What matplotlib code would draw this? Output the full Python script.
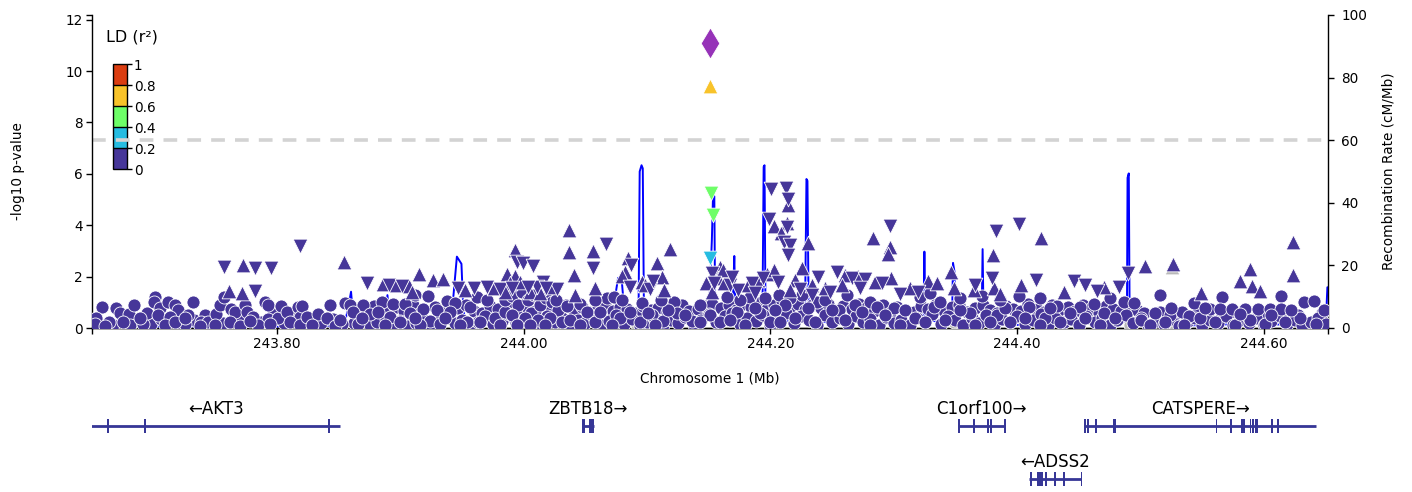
import matplotlib
matplotlib.use("Agg")
import matplotlib.pyplot as plt
import numpy as np
from matplotlib.colors import ListedColormap, BoundaryNorm
from matplotlib.cm import ScalarMappable
from matplotlib.patches import Rectangle

plt.rcParams['font.family'] = ['DejaVu Sans']

# ---------------- data ----------------
# variants with r2 < 0.2 to the lead SNP, split by marker shape
circle_pos = [
    243.6581, 243.6697, 243.6725, 243.6798, 243.6841, 243.6806, 243.6635, 243.6535, 243.6522, 243.6914,
    243.6948, 243.7009, 243.7003, 243.7049, 243.7035, 243.7116, 243.7176, 243.7197, 243.7130, 243.7094,
    243.7319, 243.7279, 243.7252, 243.7386, 243.7441, 243.7508, 243.7536, 243.7571, 243.7630, 243.7657,
    243.7738, 243.7759, 243.7806, 243.7901, 243.7927, 243.7927, 243.8008, 243.8035, 243.8084, 243.8171,
    243.8184, 243.6605, 243.6889, 243.7173, 243.7376, 243.7498, 243.7619, 243.7700, 243.7846, 243.7944,
    243.8106, 243.8187, 243.7781, 243.7254, 243.6751,
    243.8201, 243.8430, 243.8552, 243.8592, 243.8700, 243.8755, 243.8849, 243.8944, 243.9038, 243.9120,
    243.9227, 243.9187, 243.9296, 243.9377, 243.9444, 243.9403, 243.8241, 243.8335, 243.8403, 243.8619,
    243.8822, 243.8917, 243.9079, 243.9241, 243.9566, 243.9620, 243.9701, 243.9539, 243.8284, 243.8471,
    243.8657, 243.8876, 243.8998, 243.9160, 243.9322, 243.9484, 243.9647, 243.9768, 243.9850, 243.8689,
    243.8511, 243.9809, 243.9120, 243.9363,
    243.9850, 243.9906, 243.9955, 243.9987, 244.0036, 244.0085, 244.0133, 244.0182, 244.0231, 244.0279,
    243.9906, 244.0012, 244.0117, 244.0214, 244.0312, 243.9947, 244.0052, 244.0174, 244.0263,
    244.0350, 244.0458, 244.0512, 244.0674, 244.0728, 244.0958, 244.1220, 244.1039, 244.1242, 244.1133,
    244.1364, 244.1512, 244.0377, 244.0579, 244.0619, 244.0782, 244.0863, 244.0944, 244.1066, 244.1171,
    244.1309, 244.1430, 244.1593, 244.0579, 244.0798, 244.1115, 244.1430, 244.0717, 244.1009, 244.0458,
    244.2377, 244.1647, 244.1836, 244.2066, 244.2161, 244.2256, 244.2621, 244.2810, 244.2864, 244.2999,
    244.3215, 244.3296, 244.1729, 244.1917, 244.2553, 244.1755, 244.1958, 244.2120, 244.2307, 244.2444,
    244.2501, 244.2688, 244.2745, 244.2931, 244.3093, 244.3174, 244.1674, 244.1796, 244.1999, 244.2201,
    244.2363, 244.2607, 244.2810, 244.3053, 244.3255, 244.1877, 244.2039, 244.2079,
    244.3715, 244.4012, 244.4183, 244.4093, 244.4324, 244.4513, 244.4621, 244.4756, 244.4864, 244.4945,
    244.3323, 244.3377, 244.3620, 244.3837, 244.4432, 244.4702, 244.3418, 244.3540, 244.3783, 244.3904,
    244.3945, 244.4229, 244.4351, 244.4553, 244.4675, 244.4797, 244.4188, 244.3661, 244.4067, 244.4270,
    244.5000, 244.3864, 244.3540,
    244.5156, 244.5662, 244.6140, 244.5432, 244.6329, 244.6405, 244.6486, 244.5567, 244.5648, 244.5745,
    244.5851, 244.5956, 244.6053, 244.6135, 244.5121, 244.5237, 244.5337, 244.5391, 244.5249, 244.5080,
    244.5202, 244.5356, 244.5486, 244.5607, 244.5769, 244.5891, 244.6013, 244.6175, 244.6297, 244.6419,
    244.5526, 244.6216, 244.6054, 244.5810,
]
circle_logp = [
    0.83, 0.77, 0.57, 0.53, 0.89, 0.12, 0.25, 0.38, 0.14, 0.14,
    0.57, 1.22, 1.00, 0.79, 0.51, 1.00, 0.89, 0.70, 0.44, 0.12,
    1.00, 0.51, 0.14, 0.22, 0.25, 0.53, 0.89, 1.22, 0.74, 0.61,
    0.89, 0.61, 0.44, 1.02, 0.89, 0.35, 0.38, 0.87, 0.61, 0.83,
    0.44, 0.08, 0.39, 0.23, 0.08, 0.12, 0.23, 0.08, 0.12, 0.16,
    0.23, 0.12, 0.27, 0.39, 0.23,
    0.87, 0.89, 0.96, 0.89, 0.89, 0.54, 1.00, 0.92, 0.92, 1.28,
    1.26, 0.74, 0.70, 1.05, 0.96, 0.61, 0.44, 0.53, 0.40, 0.63,
    0.63, 0.44, 0.57, 0.27, 0.83, 1.22, 1.09, 0.25, 0.12, 0.08,
    0.16, 0.12, 0.23, 0.12, 0.16, 0.12, 0.23, 0.39, 0.62, 0.39,
    0.31, 0.12, 0.39, 0.39,
    1.09, 1.25, 0.89, 1.40, 1.09, 1.28, 0.89, 1.17, 1.01, 0.70,
    0.51, 0.39, 0.31, 0.39, 0.23, 0.12, 0.12, 0.12, 1.09,
    0.87, 0.92, 0.63, 1.16, 1.22, 0.96, 1.02, 0.51, 0.57, 0.27,
    0.27, 0.51, 0.31, 0.23, 0.62, 0.39, 0.62, 0.23, 0.12, 0.70,
    0.51, 0.23, 0.23, 1.09, 1.09, 1.09, 0.89, 0.12, 0.58, 0.12,
    1.00, 1.19, 1.22, 1.28, 1.16, 1.28, 1.28, 1.02, 0.83, 0.77,
    1.22, 1.35, 0.63, 0.57, 0.70, 1.09, 1.17, 0.89, 0.78, 1.09,
    0.70, 0.89, 0.62, 0.51, 0.70, 0.39, 0.31, 0.12, 0.23, 0.39,
    0.23, 0.31, 0.12, 0.12, 0.23, 0.78, 0.70, 0.23,
    1.26, 1.25, 1.16, 0.83, 0.86, 0.83, 0.93, 1.16, 1.02, 0.96,
    0.83, 1.02, 0.57, 0.51, 0.57, 0.57, 0.31, 0.70, 0.23, 0.78,
    0.23, 0.39, 0.23, 0.39, 0.12, 0.39, 0.12, 0.12, 0.39, 0.78,
    0.31, 1.09, 1.17,
    1.28, 1.19, 1.26, 0.96, 1.00, 1.06, 0.70, 0.73, 0.73, 0.73,
    0.73, 0.73, 0.73, 0.73, 0.57, 0.51, 0.63, 0.48, 0.78, 0.12,
    0.23, 0.12, 0.39, 0.23, 0.12, 0.31, 0.16, 0.23, 0.39, 0.16,
    0.78, 0.70, 0.51, 0.54,
]

# weakly associated circles along the baseline
base_pos = [
    243.862, 243.868, 243.875, 243.881, 243.888, 243.894, 243.900, 243.906, 243.913, 243.919,
    243.925, 243.931, 243.938, 243.944, 243.950, 243.957, 243.963, 243.969, 243.975, 243.982,
    243.988, 243.994, 244.000, 244.006, 244.013, 244.019, 244.025, 244.031, 244.038, 244.044,
    244.050, 244.056, 244.063, 244.069, 244.075, 244.081, 244.088, 244.094, 244.100, 244.106,
    244.113, 244.119, 244.125, 244.131, 244.138, 244.144, 244.150, 244.156, 244.163, 244.169,
    244.175, 244.181, 244.188, 244.194, 244.200, 244.206, 244.213, 244.219, 244.225, 244.231,
    244.238, 244.244, 244.250, 244.256, 244.263, 244.269, 244.275, 244.281, 244.288, 244.294,
    244.300, 244.306, 244.313, 244.319, 244.325, 244.331, 244.338, 244.344, 244.350, 244.356,
    244.363, 244.369, 244.375, 244.381, 244.388, 244.394, 244.400, 244.406, 244.413, 244.419,
    244.425, 244.431, 244.438, 244.444, 244.450, 244.456, 244.463, 244.469, 244.475, 244.481,
    244.488, 244.494, 244.500, 244.506, 244.513, 244.519, 244.525, 244.531, 244.538, 244.544,
    244.550, 244.556, 244.563, 244.569, 244.575, 244.581, 244.588, 244.594, 244.600, 244.606,
    244.613, 244.619, 244.625, 244.631, 244.638, 244.644, 244.650,
    243.655, 243.667, 243.686, 243.698, 243.706, 243.722, 243.733, 243.742, 243.756, 243.768,
    243.787, 243.797, 243.806, 243.814, 243.823, 243.836, 243.845, 243.853,
]
base_logp = [
    0.18, 0.30, 0.10, 0.22, 0.35, 0.15, 0.28, 0.08, 0.20, 0.33,
    0.12, 0.26, 0.40, 0.18, 0.30, 0.10, 0.24, 0.45, 0.15, 0.28,
    0.55, 0.20, 0.35, 0.60, 0.18, 0.48, 0.25, 0.40, 0.12, 0.30,
    0.20, 0.45, 0.10, 0.28, 0.50, 0.15, 0.35, 0.08, 0.25, 0.40,
    0.12, 0.30, 0.18, 0.42, 0.10, 0.33, 0.55, 0.22, 0.45, 0.60,
    0.15, 0.40, 0.28, 0.52, 0.12, 0.35, 0.58, 0.20, 0.45, 0.30,
    0.10, 0.50, 0.25, 0.38, 0.15, 0.48, 0.22, 0.35, 0.10, 0.42,
    0.20, 0.30, 0.12, 0.40, 0.25, 0.55, 0.15, 0.45, 0.30, 0.10,
    0.38, 0.20, 0.50, 0.12, 0.35, 0.25, 0.45, 0.15, 0.30, 0.55,
    0.10, 0.40, 0.22, 0.35, 0.12, 0.48, 0.25, 0.38, 0.10, 0.30,
    0.50, 0.18, 0.40, 0.10, 0.28, 0.15, 0.35, 0.08, 0.25, 0.40,
    0.12, 0.30, 0.20, 0.45, 0.10, 0.30, 0.18, 0.40, 0.12, 0.28,
    0.45, 0.15, 0.32, 0.10, 0.25, 0.40, 0.15,
    0.20, 0.10, 0.30, 0.15, 0.35, 0.10, 0.30, 0.50, 0.20, 0.40,
    0.25, 0.55, 0.20, 0.50, 0.25, 0.20, 0.35, 0.15,
]

# second tier of weak circles filling the dense middle band
band_pos = [
    243.865, 243.872, 243.879, 243.886, 243.897, 243.903, 243.910, 243.916, 243.928, 243.934,
    243.947, 243.953, 243.960, 243.966, 243.973, 243.979, 243.991, 243.997, 244.003, 244.009,
    244.016, 244.022, 244.028, 244.034, 244.041, 244.047, 244.053, 244.060, 244.066, 244.072,
    244.078, 244.084, 244.091, 244.097, 244.103, 244.109, 244.116, 244.122, 244.128, 244.134,
    244.141, 244.147, 244.153, 244.160, 244.166, 244.172, 244.178, 244.184, 244.191, 244.197,
    244.203, 244.209, 244.216, 244.222, 244.228, 244.234, 244.241, 244.247, 244.253, 244.259,
    244.266, 244.272, 244.278, 244.284, 244.291, 244.297, 244.303, 244.309, 244.316, 244.322,
    244.328, 244.334, 244.341, 244.347, 244.353, 244.359, 244.366, 244.372, 244.378, 244.384,
    244.391, 244.397, 244.403, 244.409, 244.416, 244.422, 244.428, 244.434, 244.441, 244.447,
    244.453, 244.459, 244.466, 244.472, 244.478, 244.484, 244.491, 244.497, 244.503, 244.516,
    244.528, 244.547, 244.566, 244.578, 244.597, 244.616, 244.628, 244.647,
]
band_logp = [
    0.75, 0.62, 0.85, 0.70, 0.80, 0.65, 0.88, 0.60, 0.82, 0.66,
    0.78, 0.90, 0.68, 0.58, 0.85, 0.72, 0.95, 0.70, 0.82, 0.65,
    0.92, 0.75, 0.60, 0.88, 0.70, 0.82, 0.62, 0.78, 0.90, 0.66,
    0.80, 0.72, 0.60, 0.85, 0.70, 0.78, 0.62, 0.75, 0.88, 0.65,
    0.72, 0.85, 0.95, 0.78, 0.88, 0.70, 0.92, 0.80, 0.98, 0.75,
    0.88, 1.05, 0.82, 0.95, 0.70, 0.88, 0.78, 0.92, 0.65, 0.85,
    0.72, 0.95, 0.80, 0.66, 0.88, 0.60, 0.82, 0.70, 0.62, 0.85,
    0.72, 0.95, 0.66, 0.80, 0.90, 0.62, 0.78, 0.88, 0.70, 0.60,
    0.85, 0.72, 0.66, 0.92, 0.75, 0.62, 0.88, 0.70, 0.80, 0.66,
    0.90, 0.72, 0.60, 0.85, 0.75, 0.65, 0.88, 0.70, 0.58, 0.62,
    0.55, 0.60, 0.52, 0.58, 0.55, 0.60, 0.52, 0.58,
]

up_pos = [
    243.7725, 243.7609, 243.7717, 243.8546, 243.9154, 243.9263, 243.9349, 243.9863, 243.9931, 244.0363,
    244.0363, 244.0565, 244.0411, 244.0579, 243.9931, 244.0849, 244.0823, 244.1188, 244.1080, 244.1120,
    244.0958, 244.1593, 244.2139, 244.2025, 244.2134, 244.2088, 244.2304, 244.2828, 244.2254, 244.2972,
    244.2950, 244.2977, 244.3274, 244.4194, 244.3801, 244.3464, 244.3351, 244.3485, 244.3647, 244.3810,
    244.4032, 244.4377, 244.4707, 244.5040, 244.5264, 244.6238, 244.5891, 244.5810, 244.6234, 244.5905,
    244.5967, 244.5492, 243.8860, 243.8957, 243.9071, 243.9095, 243.9525, 243.9760, 243.9890, 244.0214,
    244.0052, 244.0417, 244.0798, 244.0985, 244.1139, 244.1480, 244.1577, 244.1626, 244.1528, 244.1820,
    244.1901, 244.1974, 244.2201, 244.2339, 244.2607, 244.2712, 244.2583, 244.2850, 244.1617, 244.2025,
    244.3134, 244.3864, 243.9971, 244.0133, 243.9850, 244.2161, 244.2444,
]
up_logp = [
    2.45, 1.44, 1.37, 2.56, 2.09, 1.87, 1.92, 2.09, 3.03, 3.81,
    2.94, 3.00, 2.06, 1.57, 2.03, 2.74, 2.17, 3.07, 2.52, 2.00,
    1.80, 2.39, 4.79, 3.97, 4.07, 3.68, 3.30, 3.52, 2.32, 3.16,
    2.87, 1.96, 1.83, 3.49, 2.84, 2.19, 1.74, 1.54, 1.48, 1.54,
    1.67, 1.41, 1.61, 2.40, 2.49, 3.36, 2.30, 1.84, 2.06, 1.63,
    1.45, 1.35, 1.71, 1.67, 1.63, 1.40, 1.48, 1.56, 1.75, 1.61,
    1.40, 1.28, 2.02, 1.67, 1.48, 1.75, 1.95, 1.75, 1.40, 1.67,
    1.87, 2.10, 1.87, 1.67, 2.06, 2.02, 1.67, 1.79, 2.26, 2.26,
    1.56, 1.32, 1.79, 1.36, 1.40, 1.48, 1.56,
]

down_pos = [
    243.7571, 243.7824, 243.7949, 243.8184, 243.7824, 243.8733, 243.9944, 243.9998, 244.0074, 244.0669,
    244.0561, 244.0160, 244.0869, 244.1025, 244.1526, 244.2007, 244.2128, 244.2139, 244.1990, 244.2136,
    244.2106, 244.2161, 244.2142, 244.2540, 244.2966, 244.3053, 244.2485, 244.3831, 244.4012, 244.3796,
    244.3661, 244.4156, 244.4464, 244.4553, 244.4648, 244.4829, 244.4900, 243.8909, 243.9014, 243.9468,
    243.9598, 243.9703, 243.9809, 244.0271, 244.0109, 244.0863, 244.1050, 244.1544, 244.1674, 244.1739,
    244.1853, 244.1942, 244.2063, 244.2242, 244.2388, 244.2664, 244.2769, 244.2728, 244.2907, 244.1690,
    244.3199, 244.0036, 244.0182, 243.9906, 244.1877, 244.2339,
]
down_logp = [
    2.39, 2.32, 2.32, 3.20, 1.44, 1.74, 2.58, 2.52, 2.42, 3.26,
    2.35, 1.80, 2.45, 1.52, 2.13, 5.40, 5.43, 5.02, 4.23, 3.92,
    3.36, 3.23, 2.84, 2.19, 3.97, 1.32, 1.41, 3.77, 4.05, 1.93,
    1.67, 1.87, 1.83, 1.67, 1.45, 1.61, 2.13, 1.69, 1.63, 1.56,
    1.56, 1.60, 1.52, 1.52, 1.60, 1.60, 1.83, 1.75, 1.67, 1.48,
    1.75, 1.95, 1.79, 1.52, 1.98, 1.95, 1.91, 1.56, 1.75, 1.98,
    1.40, 1.60, 1.56, 1.56, 1.36, 1.28,
]

# variants without LD information
nold_pos = [243.9030, 244.0920, 244.2994, 244.3485, 244.4918, 244.5237, 244.5258]
nold_logp = [0.44, 0.12, 0.25, 0.25, 0.12, 0.16, 2.39]
nold_shape = ['o', 'o', 'o', 'o', 'o', 'o', '^']

# variants in LD (r2 >= 0.2) with the lead SNP
ld_pos = [244.1512, 244.1520, 244.1534, 244.1506]
ld_logp = [9.42, 5.26, 4.40, 2.74]
ld_r2 = [0.70, 0.50, 0.50, 0.30]
ld_shape = ['^', 'v', 'v', 'v']

lead_pos = 244.1512
lead_logp = 11.09

# recombination rate (cM/Mb)
recomb_pos = [
    243.650, 243.660, 243.700, 243.750, 243.800, 243.845, 243.855, 243.8575, 243.8600, 243.8620,
    243.870, 243.885, 243.888, 243.8895, 243.8915, 243.905, 243.930, 243.938, 243.9425, 243.9445,
    243.9458, 243.9495, 243.9510, 243.9530, 243.970, 243.990, 244.010, 244.030, 244.050, 244.058,
    244.061, 244.070, 244.0745, 244.0765, 244.0795, 244.0810, 244.0830, 244.0930, 244.0940, 244.0955,
    244.0965, 244.0975, 244.1000, 244.1100, 244.1160, 244.1200, 244.1250, 244.1350, 244.1500, 244.1525,
    244.1535, 244.1545, 244.1552, 244.1600, 244.1690, 244.1700, 244.1707, 244.1718, 244.1800, 244.1935,
    244.1945, 244.1952, 244.1960, 244.2050, 244.2180, 244.2280, 244.2292, 244.2300, 244.2310, 244.2400,
    244.2600, 244.2800, 244.3000, 244.3100, 244.3240, 244.3248, 244.3256, 244.3350, 244.3472, 244.3480,
    244.3492, 244.3500, 244.3600, 244.3712, 244.3720, 244.3728, 244.3800, 244.4000, 244.4300, 244.4600,
    244.4890, 244.4895, 244.4905, 244.4912, 244.5000, 244.5300, 244.5600, 244.5900, 244.6200, 244.6480,
    244.6505, 244.6515, 244.6520,
]
recomb_rate = [
    1.5, 0.6, 0.4, 0.5, 0.4, 0.6, 1.8, 6.0, 11.6, 2.0,
    0.8, 1.2, 4.0, 10.5, 1.5, 0.8, 1.0, 2.5, 8.0, 17.0,
    22.8, 20.5, 6.0, 1.2, 1.5, 2.2, 1.8, 2.5, 3.0, 4.0,
    8.5, 8.8, 11.0, 16.0, 15.0, 8.0, 1.5, 1.2, 50.0, 52.0,
    51.0, 2.0, 1.0, 2.0, 2.5, 5.0, 3.5, 3.0, 3.0, 28.0,
    43.0, 42.0, 3.5, 2.5, 2.0, 14.0, 23.0, 2.0, 3.5, 4.0,
    51.5, 52.0, 5.0, 3.0, 2.0, 3.0, 47.6, 47.0, 4.0, 2.0,
    1.5, 2.5, 1.0, 0.8, 2.0, 24.4, 3.0, 2.0, 2.5, 20.8,
    18.0, 1.5, 1.2, 2.5, 25.2, 2.5, 1.5, 1.0, 1.2, 1.5,
    2.0, 48.0, 49.4, 3.0, 1.0, 0.8, 1.0, 1.5, 1.0, 2.0,
    4.0, 13.0, 13.0,
]

# genes (Mb), strand, track row and exon spans
gene_names = ['AKT3', 'ZBTB18', 'C1orf100', 'CATSPERE', 'ADSS2']
gene_strand = ['-', '+', '+', '+', '-']
gene_start = [243.4880, 244.0474, 244.3524, 244.4548, 244.4093]
gene_end = [243.8510, 244.0566, 244.3899, 244.6424, 244.4521]
gene_row = [0, 0, 0, 0, 1]
gene_exons = [
    [(243.6628, 243.6628), (243.6928, 243.6928), (243.8420, 243.8420)],
    [(244.0474, 244.0500), (244.0529, 244.0566)],
    [(244.3526, 244.3526), (244.3653, 244.3653), (244.3761, 244.3761), (244.3789, 244.3789),
     (244.3899, 244.3899)],
    [(244.4548, 244.4548), (244.4575, 244.4575), (244.4640, 244.4640), (244.4778, 244.4805),
     (244.5616, 244.5616), (244.5735, 244.5735), (244.5824, 244.5824), (244.5837, 244.5837),
     (244.5891, 244.5891), (244.5913, 244.5913), (244.5932, 244.5932), (244.5946, 244.5946),
     (244.6067, 244.6067), (244.6116, 244.6116)],
    [(244.4101, 244.4120), (244.4161, 244.4210), (244.4237, 244.4237), (244.4310, 244.4310),
     (244.4377, 244.4377), (244.4521, 244.4521)],
]

x_ticks = [243.80, 244.00, 244.20, 244.40, 244.60]
y_ticks = [0, 2, 4, 6, 8, 10, 12]
recomb_ticks = [0, 20, 40, 60, 80, 100]
ld_bins = [0, 0.2, 0.4, 0.6, 0.8, 1.0]
ld_labels = ['0', '0.2', '0.4', '0.6', '0.8', '1']

# ---------------- styling ----------------
ld_colors = ['#463699', '#26BCE1', '#6EFE68', '#F8C32A', '#DB3D11']
no_ld_color = '#B8B8B8'
lead_color = '#9632B8'
gene_color = '#363696'
recomb_color = '#0000FF'
XLIM = (243.650, 244.652)
YTOP = 12.18
FS = 9.8

cmap = ListedColormap(ld_colors)
norm = BoundaryNorm(ld_bins, cmap.N)

W, H = 1412, 492
fig = plt.figure(figsize=(W / 100, H / 100), dpi=100)


def frame(left, top, right, bottom):
    return [left / W, 1 - bottom / H, (right - left) / W, (bottom - top) / H]


ax = fig.add_axes(frame(92, 15, 1328, 328))
ax_rec = ax.twinx()
ax.set_zorder(ax_rec.get_zorder() + 1)
ax.patch.set_visible(False)

# recombination rate
ax_rec.plot(recomb_pos, recomb_rate, color=recomb_color, lw=1.4, zorder=2)
ax_rec.set_ylim(0, 100)
ax_rec.set_yticks(recomb_ticks)
ax_rec.set_ylabel('Recombination Rate (cM/Mb)', fontsize=FS)
ax_rec.yaxis.set_label_coords((1388 - 92) / 1236, 0.5)
ax_rec.yaxis.label.set_va('center')

# genome-wide significance
ax.axhline(-np.log10(5e-8), color='#D3D3D3', lw=2.6, ls=(0, (3.8, 2.8)), zorder=1)

mk = dict(edgecolors='white', linewidths=0.6)
S_CIRCLE, S_TRI = 88, 112

for x, y, shp in zip(nold_pos, nold_logp, nold_shape):
    ax.scatter([x], [y], marker=shp, s=S_TRI if shp != 'o' else S_CIRCLE,
               color=no_ld_color, zorder=3, **mk)

ax.scatter(band_pos, band_logp, marker='o', s=S_CIRCLE, color=ld_colors[0], zorder=4, **mk)
ax.scatter(base_pos, base_logp, marker='o', s=S_CIRCLE, color=ld_colors[0], zorder=4, **mk)
ax.scatter(circle_pos, circle_logp, marker='o', s=S_CIRCLE, color=ld_colors[0], zorder=4, **mk)
ax.scatter(up_pos, up_logp, marker='^', s=S_TRI, color=ld_colors[0], zorder=5, **mk)
ax.scatter(down_pos, down_logp, marker='v', s=S_TRI, color=ld_colors[0], zorder=5, **mk)

for x, y, r2, shp in zip(ld_pos, ld_logp, ld_r2, ld_shape):
    ax.scatter([x], [y], marker=shp, s=S_TRI, color=cmap(norm(r2)), zorder=6, **mk)

ax.scatter([lead_pos], [lead_logp], marker='d', s=250, color=lead_color, zorder=7, **mk)

ax.set_xlim(*XLIM)
ax.set_ylim(0, YTOP)
ax.set_xticks(x_ticks)
ax.set_xticklabels([f'{t:.2f}' for t in x_ticks])
ax.set_xticks(list(XLIM), minor=True)
ax.set_yticks(y_ticks)
ax.set_yticks([YTOP], minor=True)
ax.set_xlabel('Chromosome 1 (Mb)', fontsize=FS)
ax.xaxis.set_label_coords(0.5, (328 - 378) / 313)
ax.xaxis.label.set_va('center')
ax.set_ylabel('-log10 p-value', fontsize=FS)
ax.yaxis.set_label_coords((18 - 92) / 1236, 0.5)
ax.yaxis.label.set_va('center')

for a in (ax, ax_rec):
    a.spines['top'].set_visible(False)
    for sp in a.spines.values():
        sp.set_linewidth(1.0)
ax.spines['right'].set_visible(False)
ax_rec.spines['left'].set_visible(False)
ax.tick_params(axis='both', which='both', direction='out', length=4.5, width=1.0,
               labelsize=FS, pad=2)
ax_rec.tick_params(axis='y', direction='out', length=4.5, width=1.0, labelsize=FS, pad=5)

# LD legend
fig.text(106 / W, 1 - 37 / H, 'LD (r\u00b2)', fontsize=11.5, ha='left', va='center')
cax = fig.add_axes(frame(112.7, 64.3, 126.7, 169.3))
cb = fig.colorbar(ScalarMappable(norm=norm, cmap=cmap), cax=cax, ticks=ld_bins, drawedges=True)
cb.ax.set_yticklabels(ld_labels)
cb.outline.set_linewidth(1.0)
cb.dividers.set_color('black')
cb.dividers.set_linewidth(1.0)
cax.tick_params(length=3.5, width=1.0, labelsize=FS, pad=1.5)

# gene track
ax_g = fig.add_axes(frame(92, 392, 1328, 492))
ax_g.set_xlim(*XLIM)
ax_g.set_ylim(1.245, -0.642)
ax_g.axis('off')
min_w = 1.8 / 1233.3
for name, strand, g0, g1, row, exons in zip(gene_names, gene_strand, gene_start,
                                              gene_end, gene_row, gene_exons):
    ax_g.plot([g0, g1], [row, row], color=gene_color, lw=2.0, solid_capstyle='butt')
    for e0, e1 in exons:
        w = max(e1 - e0, min_w)
        c = (e0 + e1) / 2
        ax_g.add_patch(Rectangle((c - w / 2, row - 0.135), w, 0.27,
                                 facecolor=gene_color, edgecolor='none'))
    v0, v1 = max(g0, XLIM[0]), min(g1, XLIM[1])
    label = ('\u2190' + name) if strand == '-' else (name + '\u2192')
    ax_g.text((v0 + v1) / 2, row - 0.33, label, ha='center', va='center', fontsize=12)

fig.savefig('out.png', dpi=100)
